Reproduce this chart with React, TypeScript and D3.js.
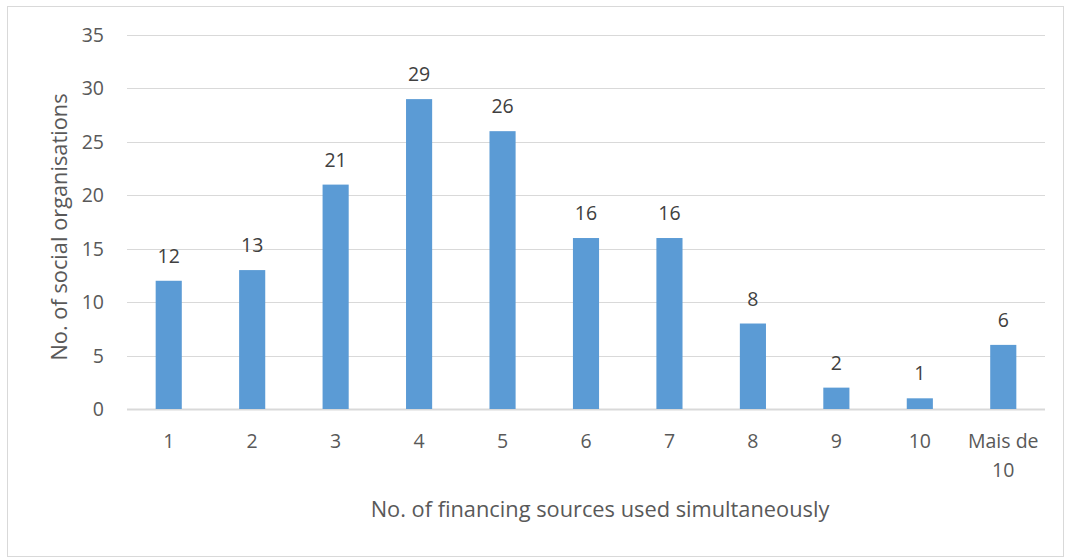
import React, { useEffect, useRef } from "react";
import * as d3 from "d3";

const categories = ["1", "2", "3", "4", "5", "6", "7", "8", "9", "10", "Mais de 10"];
const counts = [12, 13, 21, 29, 26, 16, 16, 8, 2, 1, 6];
const yTicks = [0, 5, 10, 15, 20, 25, 30, 35];

const App = () => {
  const ref = useRef<SVGSVGElement>(null);

  useEffect(() => {
    const svg = d3.select(ref.current);
    svg.selectAll("*").remove();

    const width = 1065;
    const height = 558;
    const margin = { top: 35, right: 20, bottom: 150, left: 127 };
    const font = "'Open Sans', sans-serif";
    const textColor = "#595959";

    svg.append("rect")
      .attr("x", 7.5).attr("y", 6.5)
      .attr("width", 1056).attr("height", 550)
      .attr("fill", "#fff")
      .attr("stroke", "#d9d9d9");

    const x = d3.scaleBand()
      .domain(categories)
      .range([margin.left, width - margin.right])
      .paddingInner(0.687)
      .paddingOuter(0.3435);

    const y = d3.scaleLinear()
      .domain([0, 35])
      .range([height - margin.bottom + 1, margin.top]);

    // gridlines
    svg.append("g")
      .selectAll("line")
      .data(yTicks)
      .enter().append("line")
      .attr("x1", margin.left)
      .attr("x2", width - margin.right)
      .attr("y1", (d) => Math.round(y(d)) + 0.5)
      .attr("y2", (d) => Math.round(y(d)) + 0.5)
      .attr("stroke", "#d9d9d9")
      .attr("stroke-width", (d) => (d === 0 ? 2 : 1));

    svg.append("g")
      .selectAll("text")
      .data(yTicks)
      .enter().append("text")
      .attr("x", 104)
      .attr("y", (d) => y(d))
      .attr("dy", "0.36em")
      .attr("text-anchor", "end")
      .attr("font-family", font)
      .attr("font-size", 19.5)
      .attr("fill", textColor)
      .text((d) => d);

    const data = categories.map((c, i) => ({ name: c, value: counts[i] }));

    svg.append("g")
      .selectAll("rect")
      .data(data)
      .enter().append("rect")
      .attr("x", (d) => x(d.name)!)
      .attr("y", (d) => y(d.value))
      .attr("width", x.bandwidth())
      .attr("height", (d) => y(0) - y(d.value))
      .attr("fill", "#5b9bd5");

    svg.append("g")
      .selectAll("text")
      .data(data)
      .enter().append("text")
      .attr("x", (d) => x(d.name)! + x.bandwidth() / 2)
      .attr("y", (d) => y(d.value) - 18)
      .attr("text-anchor", "middle")
      .attr("font-family", font)
      .attr("font-size", 19.5)
      .attr("fill", "#404040")
      .text((d) => d.value);

    // category labels
    const catLabels = svg.append("g")
      .selectAll("text")
      .data(categories)
      .enter().append("text")
      .attr("x", (d) => x(d)! + x.bandwidth() / 2)
      .attr("y", 448)
      .attr("text-anchor", "middle")
      .attr("font-family", font)
      .attr("font-size", 19.5)
      .attr("fill", textColor);

    catLabels.each(function (d) {
      const t = d3.select(this);
      const cx = x(d)! + x.bandwidth() / 2;
      if (d === "Mais de 10") {
        t.append("tspan").attr("x", cx).text("Mais de");
        t.append("tspan").attr("x", cx).attr("dy", 29).text("10");
      } else {
        t.text(d);
      }
    });

    svg.append("text")
      .attr("x", (margin.left + width - margin.right) / 2 + 14)
      .attr("y", 517)
      .attr("text-anchor", "middle")
      .attr("font-family", font)
      .attr("font-size", 21.8)
      .attr("fill", textColor)
      .text("No. of financing sources used simultaneously");

    svg.append("text")
      .attr("transform", `translate(67,${(y(0) + y(35)) / 2 + 5}) rotate(-90)`)
      .attr("text-anchor", "middle")
      .attr("font-family", font)
      .attr("font-size", 21.8)
      .attr("fill", textColor)
      .text("No. of social organisations");
  }, []);

  return (
    <svg
      ref={ref}
      width={1065}
      height={558}
      style={{ position: "absolute", left: 0, top: 0 }}
    ></svg>
  );
};

export default App;
